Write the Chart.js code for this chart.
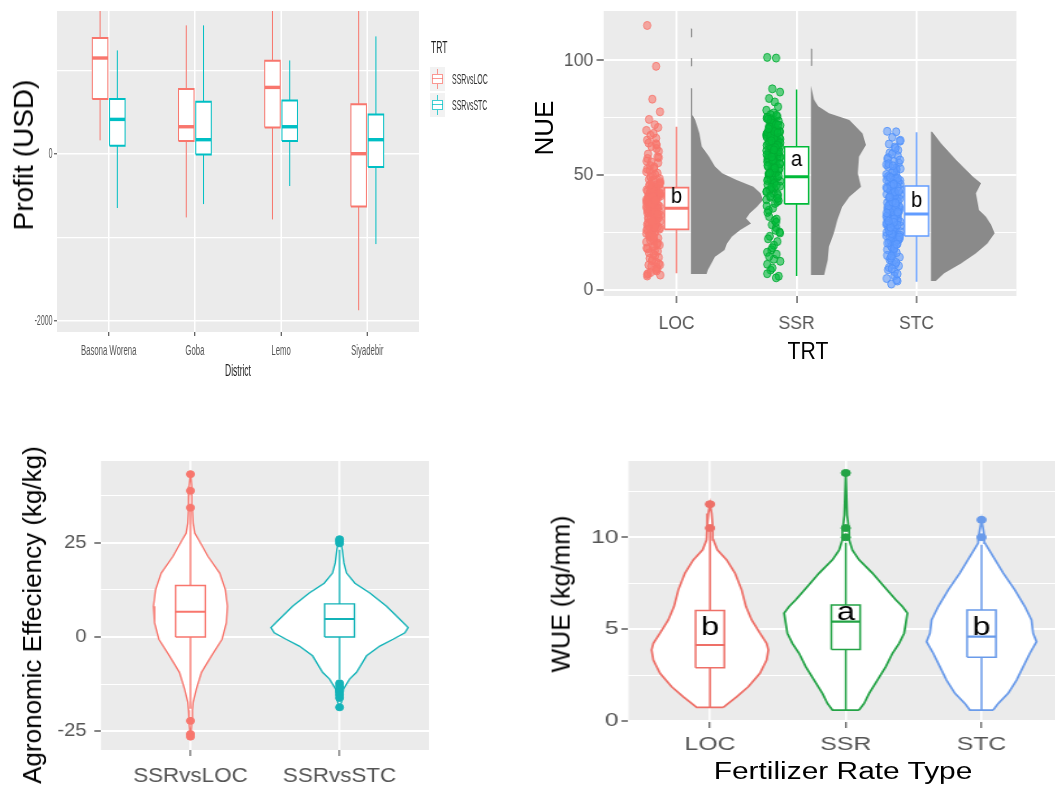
<!DOCTYPE html>
<html><head><meta charset="utf-8">
<script src="https://cdn.jsdelivr.net/npm/chart.js@4.4.1/dist/chart.umd.min.js"></script>
<style>
html,body{margin:0;padding:0;background:#fff;}
body{width:1055px;height:789px;overflow:hidden;position:relative;font-family:'Liberation Sans',Arial,sans-serif;}
canvas{position:absolute;transform-origin:0 0;}
.lbl{position:absolute;white-space:nowrap;line-height:1.15;color:#000;}
.key{position:absolute;width:15px;height:24px;background:#F2F2F2;}
.key div{position:absolute;}
</style></head><body>
<canvas id="p1"></canvas><canvas id="p2"></canvas><canvas id="p3"></canvas><canvas id="p4"></canvas>

<div class="lbl" style="left:23.6px;top:155px;font-size:28px;transform:translate(-50%,-50%) rotate(-90deg)">Profit (USD)</div>
<div class="lbl" style="left:238px;top:371px;font-size:17px;color:#222;transform:translate(-50%,-50%) scaleX(0.5)">District</div>
<div class="lbl" style="left:431px;top:48px;font-size:17px;color:#222;transform-origin:0 50%;transform:translateY(-50%) scaleX(0.5)">TRT</div>
<div class="key" style="left:430px;top:67px">
  <div style="left:7px;top:2px;width:1px;height:20px;background:rgba(248,118,109,0.75)"></div>
  <div style="left:2px;top:7px;width:9px;height:8px;border:1px solid rgba(248,118,109,0.75);background:#fff"></div>
  <div style="left:2px;top:11px;width:11px;height:1px;background:rgba(248,118,109,0.75)"></div>
</div>
<div class="key" style="left:430px;top:93px">
  <div style="left:7px;top:2px;width:1px;height:20px;background:rgba(0,191,196,0.75)"></div>
  <div style="left:2px;top:7px;width:9px;height:8px;border:1px solid rgba(0,191,196,0.75);background:#fff"></div>
  <div style="left:2px;top:11px;width:11px;height:1px;background:rgba(0,191,196,0.75)"></div>
</div>
<div class="lbl" style="left:452px;top:79px;font-size:14px;color:#333;transform-origin:0 50%;transform:translateY(-50%) scaleX(0.5)">SSRvsLOC</div>
<div class="lbl" style="left:452px;top:105px;font-size:14px;color:#333;transform-origin:0 50%;transform:translateY(-50%) scaleX(0.5)">SSRvsSTC</div>

<div class="lbl" style="left:545px;top:128px;font-size:26px;transform:translate(-50%,-50%) rotate(-90deg)">NUE</div>
<div class="lbl" style="left:808px;top:351px;font-size:23px;transform:translate(-50%,-50%) scaleX(0.92)">TRT</div>

<div class="lbl" style="left:32.7px;top:615px;font-size:26px;transform:translate(-50%,-50%) rotate(-90deg)">Agronomic Effeciency (kg/kg)</div>

<div class="lbl" style="left:561.3px;top:594px;font-size:25px;transform:translate(-50%,-50%) rotate(-90deg)">WUE (kg/mm)</div>
<div class="lbl" style="left:843px;top:770.5px;font-size:23px;transform:translate(-50%,-50%) scaleX(1.3)">Fertilizer Rate Type</div>

<script>
// ================= DATA =================
// Panel A: Profit (USD) by District (box statistics)
const districts = ['Basona Worena', 'Goba', 'Lemo', 'Siyadebir'];
const profitTickLabels = [-2000, 0];
const profitLocLow  = [160, -763, -787, -1876];
const profitLocQ1   = [655, 152, 315, -631];
const profitLocMed  = [1146, 323, 794, 0];
const profitLocQ3   = [1386, 775, 1114, 591];
const profitLocHigh = [2150, 1537, 2050, 2300];
const profitStcLow  = [-650, -603, -387, -1082];
const profitStcQ1   = [96, -8, 152, -160];
const profitStcMed  = [411, 168, 323, 168];
const profitStcQ3   = [655, 623, 638, 471];
const profitStcHigh = [1237, 1537, 1117, 1405];

// Panel B: NUE raincloud
const nueGroups = ['LOC', 'SSR', 'STC'];
const nueTickLabels = [0, 50, 100];
const nueLocPoints = [115.2, 97.4, 83.1, 77.6, 74.3, 72.0, 70.8, 69.5, 68.2, 67.4,
  41.5, 29.3, 44.4, 18.8, 36.4, 52.1, 25.4, 38.6, 9.2, 62.5,
  40.2, 31.1, 47.2, 12.7, 33.9, 57.3, 27.6, 42.6, 21.3, 65.3,
  39.1, 35.1, 46.6, 16.2, 30.4, 55.4, 24.6, 43.8, 7.6, 60.4,
  40.6, 28.2, 49.8, 19.6, 37.0, 53.6, 26.1, 41.1, 10.4, 63.2,
  38.2, 32.6, 45.1, 15.0, 34.5, 58.0, 23.0, 43.2, 6.1, 66.1,
  39.7, 29.9, 48.1, 17.1, 36.9, 51.5, 22.1, 42.0, 11.5, 59.2,
  37.5, 33.2, 45.9, 13.8, 31.8, 56.1, 20.5, 44.9, 8.3, 64.0,
  40.9, 28.8, 50.3, 17.9, 35.8, 54.2, 26.9, 6.8,
  43.5, 38.9, 27.1, 33.7, 41.8, 22.6, 36.1, 47.9, 30.8, 14.2,
  39.4, 45.6, 25.9, 34.1, 42.3, 19.1, 37.8, 50.9, 29.6, 9.9,
  40.4, 44.0, 24.1, 32.9, 43.0, 16.9, 36.7, 53.0, 28.5, 12.1,
  38.4, 46.3, 23.7, 35.4, 41.3, 20.9, 37.2, 49.2, 31.5, 7.2,
  39.9, 42.8, 26.5, 34.8, 44.7, 18.3, 35.6, 55.8, 30.1, 10.9,
  41.7, 47.5, 25.0, 33.5, 40.0, 21.7, 38.0, 52.7, 29.0, 13.3,
  42.2, 45.4, 27.3, 32.2, 39.3, 15.6, 36.0, 57.7, 31.4, 8.8,
  40.7, 48.6, 24.3, 34.0, 43.6, 19.9, 37.3, 61.6, 28.0, 6.5,
  44.1, 39.0, 26.6, 33.1, 46.0, 22.9, 35.3, 63.7, 30.0, 11.0];
const nueSsrPoints = [101.3, 101.0, 87.6, 86.2, 83.4, 81.9, 79.8, 78.3, 77.1, 76.4,
  62.9, 48.3, 70.1, 35.6, 57.7, 66.0, 44.5, 74.8, 21.1, 53.2,
  64.4, 50.6, 71.6, 28.4, 59.5, 67.6, 41.8, 73.3, 13.4, 55.9,
  61.2, 46.7, 68.9, 32.0, 56.4, 65.1, 39.3, 72.5, 8.7, 52.0,
  63.7, 49.5, 69.4, 25.3, 58.6, 66.8, 43.0, 75.6, 17.5, 54.4,
  60.5, 47.4, 70.7, 37.7, 57.0, 64.9, 40.4, 73.9, 11.2, 51.3,
  62.1, 45.2, 68.1, 30.3, 59.9, 67.2, 42.1, 71.0, 6.0, 53.7,
  61.6, 48.9, 66.4, 23.4, 56.8, 63.0, 38.5, 74.6, 15.6, 50.1,
  65.7, 44.1, 69.9, 33.8, 58.1, 60.9, 19.5, 7.1, 5.3,
  63.3, 55.1, 71.3, 47.0, 60.0, 67.9, 52.6, 74.1, 38.9, 58.4,
  65.4, 53.5, 69.2, 43.6, 61.9, 66.6, 49.0, 72.8, 30.9, 57.3,
  64.1, 51.8, 70.4, 45.9, 59.1, 68.5, 54.0, 75.3, 27.2, 56.1,
  62.4, 50.4, 67.4, 41.2, 60.7, 65.9, 48.0, 73.6, 22.3, 55.6,
  63.9, 52.9, 70.9, 46.4, 58.9, 69.6, 44.7, 76.1, 34.7, 57.9,
  61.4, 51.0, 68.7, 39.9, 62.7, 66.2, 47.7, 72.1, 18.4, 54.9,
  64.6, 53.1, 71.8, 42.7, 59.4, 67.0, 49.7, 74.4, 26.0, 56.6,
  60.2, 50.9, 69.0, 36.6, 63.1, 65.0, 45.5, 70.3, 12.5, 58.0,
  62.0, 54.2, 68.4, 40.9, 61.0, 16.4, 29.5, 9.6, 24.8, 14.6];
const nueStcPoints = [69.1, 68.9, 66.5, 64.8, 63.6, 62.3,
  31.2, 44.6, 22.8, 38.1, 55.3, 27.4, 48.9, 16.7, 35.0, 59.7,
  25.9, 41.7, 20.1, 33.6, 52.4, 29.0, 46.2, 12.4, 36.8, 57.1,
  24.3, 43.1, 18.5, 30.6, 50.6, 26.6, 47.7, 9.8, 39.4, 60.9,
  23.6, 45.0, 21.4, 34.2, 53.8, 28.2, 42.5, 14.3, 37.5, 56.0,
  25.1, 40.3, 19.2, 32.4, 49.7, 27.9, 44.0, 11.1, 35.8, 58.5,
  24.8, 42.9, 17.6, 31.9, 51.2, 29.7, 46.9, 7.9, 38.7, 54.6,
  26.2, 41.0, 22.0, 33.0, 48.3, 15.5, 36.2, 13.2, 6.2, 5.0,
  3.9, 2.6, 4.4,
  27.0, 41.5, 23.3, 35.5, 49.3, 30.3, 45.6, 17.2, 38.0, 53.1,
  24.0, 43.8, 20.7, 32.8, 47.2, 28.6, 42.3, 13.9, 36.5, 57.6,
  26.9, 40.7, 22.4, 34.5, 51.9, 29.2, 44.9, 18.9, 39.0, 55.0,
  25.4, 42.0, 21.0, 31.5, 48.6, 27.6, 46.4, 15.0, 37.2, 59.3,
  23.9, 40.1, 19.7, 33.3, 50.3, 30.7, 43.4, 10.5, 35.1, 61.7,
  26.3, 39.6, 22.9, 31.0, 47.9, 28.3, 45.3, 16.3, 36.7, 52.8,
  24.6, 41.2, 20.4, 34.0, 49.0, 29.5, 44.2, 12.0, 38.4, 56.6,
  25.7, 42.7, 21.8, 32.1, 46.0, 27.3, 43.0, 8.8, 37.9, 54.1,
  23.1, 40.5, 18.1, 33.6, 7.0, 14.8, 19.9, 30.0, 65.2, 9.3];
const nueLow  = [7.3, 6.1, 3.6];
const nueQ1   = [26.4, 37.5, 23.5];
const nueMed  = [35.6, 49.3, 33.1];
const nueQ3   = [44.6, 62.4, 45.3];
const nueHigh = [71.1, 87.3, 68.7];
const nueLetters = ['b', 'a', 'b'];
const nueLetterY = [37.8, 54.1, 36.0];
const nueLocDensY = [7.0, 8.7, 11.6, 14.5, 17.4, 20.3, 23.2, 26.1, 29.0, 31.2, 33.4, 36.3, 39.2, 42.1, 45.0, 47.9, 50.8, 53.8, 58.1, 62.5, 68.3, 74.0, 76.0, 77.0, 87.8, 88.0, 97.3, 97.5, 100.9, 101.0, 110.0, 110.2, 113.7, 114.0];
const nueLocDensW = [0.13, 0.14, 0.17, 0.20, 0.28, 0.30, 0.34, 0.41, 0.50, 0.46, 0.49, 0.55, 0.60, 0.58, 0.52, 0.38, 0.26, 0.20, 0.15, 0.09, 0.07, 0.035, 0.015, 0.01, 0.01, 0, 0, 0.01, 0.01, 0, 0, 0.01, 0.01, 0];
const nueSsrDensY = [6.5, 13.1, 18.9, 24.7, 30.5, 36.3, 40.6, 45.0, 50.8, 58.0, 63.2, 68.2, 74.0, 77.0, 80.0, 83.0, 86.0, 89.0, 97.5, 97.7, 105.0, 105.2];
const nueSsrDensW = [0.11, 0.14, 0.15, 0.19, 0.22, 0.26, 0.32, 0.417, 0.39, 0.40, 0.458, 0.43, 0.32, 0.15, 0.06, 0.025, 0.012, 0, 0, 0.01, 0.01, 0];
const nueStcDensY = [3.9, 7.3, 11.6, 16.0, 20.3, 24.7, 28.5, 31.9, 34.8, 37.8, 42.1, 46.5, 49.3, 56.6, 63.9, 68.9];
const nueStcDensW = [0.04, 0.11, 0.25, 0.375, 0.47, 0.53, 0.50, 0.458, 0.40, 0.39, 0.375, 0.417, 0.35, 0.21, 0.083, 0.01];

// Panel C: Agronomic efficiency violins
const aeGroups = ['SSRvsLOC', 'SSRvsSTC'];
const aeTickLabels = [-25, 0, 25];
const aeLocViolinY = [-26.4, -23, -19.5, -17.3, -13.8, -9.4, -5, -0.6, 3.8, 8.2, 12.6, 17, 21.4, 25.8, 27.6, 30.2, 34, 40, 43.5];
const aeLocViolinW = [0, 0.009, 0.013, 0.018, 0.040, 0.074, 0.141, 0.212, 0.241, 0.248, 0.234, 0.196, 0.118, 0.056, 0.029, 0.018, 0.013, 0.009, 0];
const aeStcViolinY = [-18.7, -17.3, -13.8, -11.2, -9.4, -5, -2.4, -0.6, 1.1, 2.5, 4.7, 8.2, 11.7, 14.3, 17, 19.7, 23.2, 25, 26];
const aeStcViolinW = [0, 0.013, 0.027, 0.067, 0.114, 0.181, 0.270, 0.359, 0.438, 0.460, 0.404, 0.315, 0.203, 0.103, 0.047, 0.029, 0.018, 0.009, 0];
const aeLow  = [-19.1, -11.2];
const aeQ1   = [0, 0];
const aeMed  = [6.7, 4.8];
const aeQ3   = [13.7, 8.8];
const aeHigh = [33.5, 23.2];
const aeLocOutliers = [34.4, 38.9, 43.3, -22.3, -25.8, -26.5];
const aeStcOutliers = [24.9, 25.5, 26.0, -12.3, -13.0, -13.8, -14.6, -15.4, -16.2, -18.7];

// Panel D: WUE violins
const wueGroups = ['LOC', 'SSR', 'STC'];
const wueTickLabels = [0, 5, 10];
const wueLocViolinY = [0.75, 0.96, 1.32, 1.87, 2.6, 3.32, 3.87, 4.23, 4.78, 5.5, 6.23, 7.14, 8.05, 8.77, 9.32, 9.86, 10.6, 11.3, 11.8];
const wueLocViolinW = [0.098, 0.135, 0.196, 0.282, 0.368, 0.417, 0.430, 0.417, 0.368, 0.307, 0.265, 0.233, 0.184, 0.123, 0.054, 0.025, 0.020, 0.012, 0];
const wueSsrViolinY = [0.6, 0.96, 1.51, 2.23, 2.96, 3.69, 4.23, 4.78, 5.32, 5.87, 6.23, 6.6, 7.32, 8.05, 8.77, 9.3, 9.86, 10.3, 10.6, 11.2, 13.5];
const wueSsrViolinW = [0.098, 0.135, 0.172, 0.233, 0.295, 0.344, 0.393, 0.430, 0.442, 0.454, 0.417, 0.368, 0.282, 0.196, 0.098, 0.049, 0.025, 0.025, 0.020, 0.010, 0];
const wueStcViolinY = [0.6, 0.96, 1.51, 2.23, 2.96, 3.69, 4.32, 4.78, 5.5, 6.23, 7.14, 8.05, 8.95, 9.68, 10.1, 10.95];
const wueStcViolinW = [0.086, 0.123, 0.196, 0.258, 0.307, 0.356, 0.405, 0.380, 0.368, 0.319, 0.245, 0.160, 0.086, 0.025, 0.020, 0];
const wueLow  = [0.75, 0.6, 0.6];
const wueQ1   = [2.9, 3.9, 3.47];
const wueMed  = [4.14, 5.41, 4.6];
const wueQ3   = [6.01, 6.32, 6.05];
const wueHigh = [10.3, 9.7, 9.6];
const wueLocOutliers = [10.5, 11.8];
const wueSsrOutliers = [10.0, 10.5, 13.5];
const wueStcOutliers = [10.0, 10.95];
const wueLetters = ['b', 'a', 'b'];
const wueLetterY = [4.69, 5.5, 4.69];

// ================= DRAWING =================
const FONT = "'Liberation Sans', Arial, sans-serif";
const COL = { red: '#F8766D', green: '#1DAA45', blue: '#619CFF', teal: '#00BFC4', tealDark: '#13B3B8', grey: '#8A8A8A' };
const jit = [-0.83, 0.41, -0.12, 0.95, -0.57, 0.22, 0.68, -0.94, 0.05, -0.36, 0.77, -0.71, 0.33, -0.05, 0.88, -0.48, 0.15, -0.9, 0.58, -0.25, 0.47, -0.63, 0.99, -0.18, 0.27, -0.79, 0.62, -0.41, 0.1];

function dsLine(points, color, width, order, extra) {
  return Object.assign({ data: points, borderColor: color, borderWidth: width, backgroundColor: 'rgba(0,0,0,0)',
    pointRadius: 0, pointHoverRadius: 0, fill: false, tension: 0, order: order }, extra || {});
}
function boxDatasets(c, h, low, q1, med, q3, high, color, lw, mlw, wlw) {
  return [
    dsLine([{x: c, y: low}, {x: c, y: high}], color, wlw, 6),
    dsLine([{x: c - h, y: q1}, {x: c + h, y: q1}, {x: c + h, y: q3}, {x: c - h, y: q3}, {x: c - h, y: q1}], color, lw, 5,
      {fill: 'shape', backgroundColor: '#ffffff'}),
    dsLine([{x: c - h, y: med}, {x: c + h, y: med}], color, mlw, 4)
  ];
}
function violinDataset(c, ys, ws, color, lw) {
  const right = ys.map((y, i) => ({x: c + ws[i], y: y}));
  const left = ys.map((y, i) => ({x: c - ws[i], y: y})).reverse();
  return dsLine(right.concat(left, [right[0]]), color, lw, 8, {fill: 'shape', backgroundColor: '#ffffff'});
}
function flatViolinDataset(base, ys, ws, color) {
  const pts = [{x: base, y: ys[0]}].concat(ys.map((y, i) => ({x: base + ws[i], y: y})),
    [{x: base, y: ys[ys.length - 1]}, {x: base, y: ys[0]}]);
  return dsLine(pts, 'rgba(0,0,0,0)', 0, 9, {fill: 'shape', backgroundColor: color});
}
function pointDataset(points, fill, stroke, r, bw, order) {
  return { data: points, showLine: false, pointRadius: r, pointHoverRadius: r, pointBackgroundColor: fill,
    pointBorderColor: stroke, pointBorderWidth: bw, borderColor: stroke, backgroundColor: fill, order: order, fill: false };
}
function jittered(c, ys, off, spread) {
  return ys.map((y, i) => ({x: c + off + jit[i % jit.length] * spread, y: y}));
}

const bgPlugin = { id: 'panelBg', beforeDraw(chart) {
  const a = chart.chartArea, ctx = chart.ctx;
  ctx.save(); ctx.fillStyle = '#EBEBEB'; ctx.fillRect(a.left, a.top, a.right - a.left, a.bottom - a.top); ctx.restore();
}};
const letterPlugin = { id: 'letters', afterDatasetsDraw(chart, args, opts) {
  if (!opts || !opts.items) return;
  const ctx = chart.ctx, xs = chart.scales.x, ys = chart.scales.y;
  ctx.save(); ctx.font = opts.font; ctx.fillStyle = '#000'; ctx.textAlign = 'center'; ctx.textBaseline = 'alphabetic';
  opts.items.forEach(it => ctx.fillText(it.text, xs.getPixelForValue(it.x), ys.getPixelForValue(it.y)));
  ctx.restore();
}};

function makePanel(id, P, datasets, ax, ay, letters) {
  const cv = document.getElementById(id);
  const W = Math.round(P.w / P.sx);
  cv.width = W; cv.height = P.h;
  Object.assign(cv.style, {left: P.left + 'px', top: P.top + 'px', width: W + 'px', height: P.h + 'px', transform: 'scaleX(' + P.sx + ')'});
  const Li = (P.L - P.left) / P.sx, Ri = (P.R - P.left) / P.sx;
  const yW = Li, padR = W - Ri, padT = P.T - P.top, xH = P.top + P.h - P.B;
  function axis(a, isX) {
    const all = a.majors.concat(a.minors || []).sort((p, q) => p - q);
    const isMaj = v => a.majors.some(m => Math.abs(m - v) < 1e-9);
    return {
      type: 'linear', min: a.min, max: a.max, position: isX ? 'bottom' : 'left',
      afterBuildTicks: s => { s.ticks = all.map(v => ({value: v})); },
      afterFit: s => { if (isX) s.height = xH; else s.width = yW; s.paddingTop = 0; s.paddingBottom = 0; s.paddingLeft = 0; s.paddingRight = 0; },
      ticks: { autoSkip: false, maxRotation: 0, minRotation: 0, font: {family: FONT, size: a.size}, color: a.color,
        padding: a.pad, callback: v => isMaj(v) ? a.label(v) : '' },
      grid: { color: '#ffffff', lineWidth: c => (c.tick && isMaj(c.tick.value)) ? a.majW : a.minW, drawTicks: true,
        tickLength: a.tickLen, tickWidth: a.tickW,
        tickColor: c => (c.tick && isMaj(c.tick.value)) ? '#333333' : 'rgba(0,0,0,0)' },
      border: { display: false }
    };
  }
  return new Chart(cv, {
    type: 'line',
    data: { datasets: datasets },
    options: {
      responsive: false, animation: false, events: [],
      layout: { padding: { top: padT, right: padR, left: 0, bottom: 0 } },
      plugins: { legend: { display: false }, tooltip: { enabled: false }, letters: letters || {} },
      scales: { x: axis(ax, true), y: axis(ay, false) }
    },
    plugins: [bgPlugin, letterPlugin]
  });
}

// ---------- Panel A ----------
(function () {
  const ds = [];
  districts.forEach((d, i) => {
    ds.push(...boxDatasets(i + 1 - 0.1, 0.09, profitLocLow[i], profitLocQ1[i], profitLocMed[i], profitLocQ3[i], profitLocHigh[i], COL.red, 2, 3.4, 2));
    ds.push(...boxDatasets(i + 1 + 0.1, 0.09, profitStcLow[i], profitStcQ1[i], profitStcMed[i], profitStcQ3[i], profitStcHigh[i], COL.teal, 2, 3.4, 2));
  });
  makePanel('p1', {left: 0, top: 0, w: 440, h: 395, sx: 0.5, L: 57, T: 11, R: 419, B: 332}, ds,
    {min: 0.4, max: 4.6, majors: [1, 2, 3, 4], label: v => districts[Math.round(v) - 1], size: 15.5, color: '#555', pad: 5, tickLen: 4, tickW: 2, majW: 3, minW: 0},
    {min: -2135, max: 1709, majors: profitTickLabels, minors: [-1000, 1000], label: v => String(v), size: 14, color: '#555', pad: 3, tickLen: 6, tickW: 1, majW: 1.6, minW: 1.3});
})();

// ---------- Panel B ----------
(function () {
  const ds = [];
  const pts = [nueLocPoints, nueSsrPoints, nueStcPoints];
  const dY = [nueLocDensY, nueSsrDensY, nueStcDensY];
  const dW = [nueLocDensW, nueSsrDensW, nueStcDensW];
  const cols = [COL.red, '#00BA38', COL.blue];
  const fills = ['rgba(248,118,109,0.6)', 'rgba(0,186,56,0.6)', 'rgba(97,156,255,0.6)'];
  const strokes = ['rgba(248,118,109,0.85)', 'rgba(0,170,50,0.85)', 'rgba(80,145,250,0.85)'];
  const letters = [];
  nueGroups.forEach((g, i) => {
    const c = i + 1;
    ds.push(flatViolinDataset(c + 0.12, dY[i], dW[i], COL.grey));
    ds.push(pointDataset(jittered(c, pts[i], -0.195, 0.06), fills[i], strokes[i], 4, 1, 7));
    ds.push(...boxDatasets(c, 0.1, nueLow[i], nueQ1[i], nueMed[i], nueQ3[i], nueHigh[i], cols[i], 1.6, 3, 1.6));
    letters.push({x: c, y: nueLetterY[i], text: nueLetters[i]});
  });
  makePanel('p2', {left: 520, top: 0, w: 535, h: 400, sx: 0.92, L: 603.6, T: 11, R: 1016.4, B: 296}, ds,
    {min: 0.392, max: 3.832, majors: [1, 2, 3], label: v => nueGroups[Math.round(v) - 1], size: 19, color: '#555', pad: 9, tickLen: 7, tickW: 1.2, majW: 2.2, minW: 0},
    {min: -2.6, max: 121.5, majors: nueTickLabels, minors: [25, 75], label: v => String(v), size: 19, color: '#555', pad: 3.7, tickLen: 7.6, tickW: 1.2, majW: 2, minW: 1},
    {items: letters, font: "22px 'Liberation Sans', Arial, sans-serif"});
})();

// ---------- Panel C ----------
(function () {
  const ds = [];
  const vy = [aeLocViolinY, aeStcViolinY], vw = [aeLocViolinW, aeStcViolinW];
  const outl = [aeLocOutliers, aeStcOutliers];
  const cols = [COL.red, COL.tealDark];
  aeGroups.forEach((g, i) => {
    const c = i + 1;
    ds.push(violinDataset(c, vy[i], vw[i], cols[i], 1.4));
    ds.push(...boxDatasets(c, 0.1, aeLow[i], aeQ1[i], aeMed[i], aeQ3[i], aeHigh[i], cols[i], 1.4, 2, 1.4));
    ds.push(pointDataset(outl[i].map(y => ({x: c, y: y})), cols[i], cols[i], 3.5, 1, 3));
  });
  makePanel('p3', {left: 0, top: 440, w: 440, h: 349, sx: 1.12, L: 101, T: 461, R: 429, B: 750}, ds,
    {min: 0.4, max: 2.6, majors: [1, 2], label: v => aeGroups[Math.round(v) - 1], size: 20, color: '#555', pad: 8, tickLen: 6, tickW: 1, majW: 1.8, minW: 0},
    {min: -30.05, max: 46.8, majors: aeTickLabels, minors: [-12.5, 12.5, 37.5], label: v => String(v), size: 18, color: '#555', pad: 7, tickLen: 6, tickW: 1.2, majW: 2, minW: 1});
})();

// ---------- Panel D ----------
(function () {
  const ds = [];
  const vy = [wueLocViolinY, wueSsrViolinY, wueStcViolinY], vw = [wueLocViolinW, wueSsrViolinW, wueStcViolinW];
  const outl = [wueLocOutliers, wueSsrOutliers, wueStcOutliers];
  const cols = ['#EE7068', '#23A345', '#6A9BEA'];
  const letters = [];
  wueGroups.forEach((g, i) => {
    const c = i + 1;
    ds.push(violinDataset(c, vy[i], vw[i], cols[i], 1.7));
    ds.push(...boxDatasets(c, 0.106, wueLow[i], wueQ1[i], wueMed[i], wueQ3[i], wueHigh[i], cols[i], 1.5, 2.2, 1.5));
    ds.push(pointDataset(outl[i].map(y => ({x: c, y: y})), cols[i], cols[i], 3.5, 1, 3));
    letters.push({x: c, y: wueLetterY[i], text: wueLetters[i]});
  });
  makePanel('p4', {left: 520, top: 440, w: 560, h: 349, sx: 1.3, L: 628.5, T: 461, R: 1063, B: 722}, ds,
    {min: 0.4, max: 3.6, majors: [1, 2, 3], label: v => wueGroups[Math.round(v) - 1], size: 19, color: '#555', pad: 5, tickLen: 6, tickW: 1, majW: 1.55, minW: 0},
    {min: -0.05, max: 14.15, majors: wueTickLabels, minors: [2.5, 7.5, 12.5], label: v => String(v), size: 19, color: '#555', pad: 2.3, tickLen: 5.4, tickW: 1.2, majW: 2, minW: 1},
    {items: letters, font: "25px 'Liberation Sans', Arial, sans-serif"});
})();
</script>
</body></html>
